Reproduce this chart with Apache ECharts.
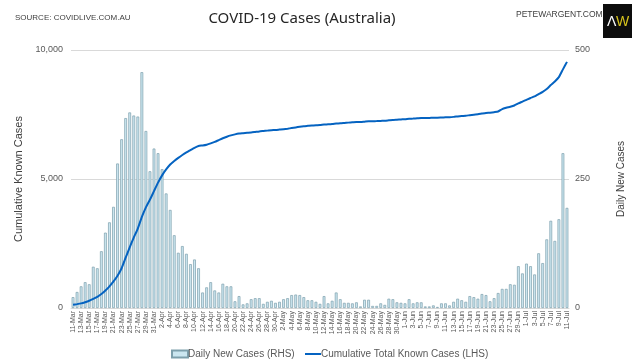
<!DOCTYPE html>
<html><head><meta charset="utf-8">
<script src="https://cdn.jsdelivr.net/npm/echarts@6/dist/echarts.min.js"></script>
<style>html,body{margin:0;padding:0;background:#fff}#c{width:640px;height:362px}</style>
</head><body><div id="c"></div>
<script>
// Dates 11-Mar to 11-Jul (2020)
var months = ['Mar','Apr','May','Jun','Jul'];
var monthDays = [[11,31],[1,30],[1,31],[1,30],[1,11]];
var categories = [];
for (var m = 0; m < months.length; m++) {
  for (var d = monthDays[m][0]; d <= monthDays[m][1]; d++) categories.push(d + '-' + months[m]);
}
// Daily new cases (right axis)
var dailyNew = [21,31,42,50,46,80,77,110,146,166,196,280,327,368,379,373,371,457,343,265,309,
  300,269,222,190,141,107,120,105,85,94,77,30,40,50,34,30,47,42,42,13,23,7,9,17,19,19,8,12,14,10,
  12,17,19,25,26,25,21,15,15,12,8,23,9,14,30,17,10,10,9,11,3,16,16,4,4,9,6,18,17,11,10,
  9,17,9,11,11,3,3,5,2,9,9,5,12,18,15,12,23,21,18,27,25,13,19,29,37,37,46,45,81,67,
  86,81,65,106,87,133,169,130,172,300,194];
// Cumulative total known cases (left axis)
var cumulative = [125,150,180,225,280,350,430,540,680,840,1030,1250,1540,1950,2350,2730,3080,3530,3900,4200,4530,
  4860,5140,5370,5560,5700,5820,5930,6030,6120,6210,6280,6300,6330,6380,6440,6510,6580,6640,6690,6730,6760,6775,6790,6805,6825,6845,6860,6875,6890,6900,
  6915,6930,6950,6975,7000,7025,7045,7060,7075,7085,7093,7110,7118,7130,7150,7165,7175,7185,7195,7205,7208,7222,7236,7240,7244,7252,7258,7274,7290,7300,7310,
  7318,7334,7342,7352,7362,7365,7368,7373,7375,7383,7391,7396,7408,7425,7440,7452,7474,7494,7510,7536,7560,7572,7590,7615,7710,7760,7800,7850,7930,8000,
  8070,8140,8200,8290,8380,8490,8640,8780,8950,9250,9540];
var leftTicks = [0, 5000, 10000];
var rightTicks = [0, 250, 500];

var chart = echarts.init(document.getElementById('c'));
var font = 'Liberation Sans, Arial, sans-serif';
var legendText = {fontFamily: font, fontSize: 10, color: '#595959', padding: [0,0,0,-5]};
chart.setOption({
  animation: false,
  textStyle: {fontFamily: font},
  title: [
    {text: 'COVID-19 Cases (Australia)', left: 297, top: 6, textAlign: 'center',
     textStyle: {fontFamily: 'Noto Sans, sans-serif', fontSize: 15, fontWeight: 'normal', color: '#262626'}},
    {text: 'SOURCE: COVIDLIVE.COM.AU', left: 10, top: 9,
     textStyle: {fontFamily: font, fontSize: 8, fontWeight: 'normal', color: '#404040'}},
    {text: 'PETEWARGENT.COM', left: 511, top: 5,
     textStyle: {fontFamily: font, fontSize: 8.5, fontWeight: 'normal', color: '#404040'}}
  ],
  graphic: [
    {type: 'rect', shape: {x: 603, y: 4, width: 29, height: 34}, style: {fill: '#0d0d0d'}},
    {type: 'text', style: {x: 607, y: 15, text: 'Λ', fill: '#ffffff', font: '14px Liberation Sans'}},
    {type: 'text', style: {x: 616, y: 15, text: 'W', fill: '#d8c41c', font: '14px Liberation Sans'}}
  ],
  legend: [
    {left: 171, top: 349, padding: 0, itemWidth: 16, itemHeight: 7, textStyle: legendText,
     data: [{name: 'Daily New Cases (RHS)', icon: 'rect'}]},
    {left: 305, top: 349, padding: 0, itemWidth: 16, itemHeight: 7, textStyle: legendText,
     data: [{name: 'Cumulative Total Known Cases (LHS)', icon: 'path://M0,3H16V5H0Z'}]}
  ],
  grid: {left: 71, right: 71, top: 50, bottom: 54, containLabel: false},
  xAxis: {
    type: 'category', data: categories, boundaryGap: true,
    axisLine: {show: true, lineStyle: {color: '#d9d9d9'}},
    axisTick: {show: false},
    axisLabel: {interval: 1, rotate: 90, fontSize: 7, color: '#595959', margin: 3, fontFamily: font}
  },
  yAxis: [
    {type: 'value', min: 0, max: 10000, interval: 5000, position: 'left',
     name: 'Cumulative Known Cases', nameLocation: 'middle', nameGap: 46,
     nameTextStyle: {fontSize: 11, color: '#404040', fontFamily: font},
     axisLabel: {fontSize: 9, color: '#595959', margin: 8,
       formatter: function(v){ return leftTicks.indexOf(v) >= 0 ? v.toLocaleString('en-US') : ''; }},
     axisLine: {show: false}, axisTick: {show: false},
     splitLine: {show: true, lineStyle: {color: '#d9d9d9', width: 1}}},
    {type: 'value', min: 0, max: 500, interval: 250, position: 'right',
     name: 'Daily New Cases', nameLocation: 'middle', nameGap: 47,
     nameTextStyle: {fontSize: 10, color: '#404040', fontFamily: font},
     axisLabel: {fontSize: 9, color: '#595959', margin: 6,
       formatter: function(v){ return rightTicks.indexOf(v) >= 0 ? String(v) : ''; }},
     axisLine: {show: false}, axisTick: {show: false}, splitLine: {show: false}}
  ],
  series: [
    {name: 'Daily New Cases (RHS)', type: 'bar', yAxisIndex: 1, data: dailyNew, barWidth: '68%',
     itemStyle: {color: '#cbe6f0', borderColor: '#7d9fac', borderWidth: 0.7}},
    {name: 'Cumulative Total Known Cases (LHS)', type: 'line', yAxisIndex: 0, data: cumulative,
     symbol: 'none', smooth: 0.2, lineStyle: {color: '#0563c1', width: 2}, itemStyle: {color: '#0563c1'}}
  ]
});
</script></body></html>
